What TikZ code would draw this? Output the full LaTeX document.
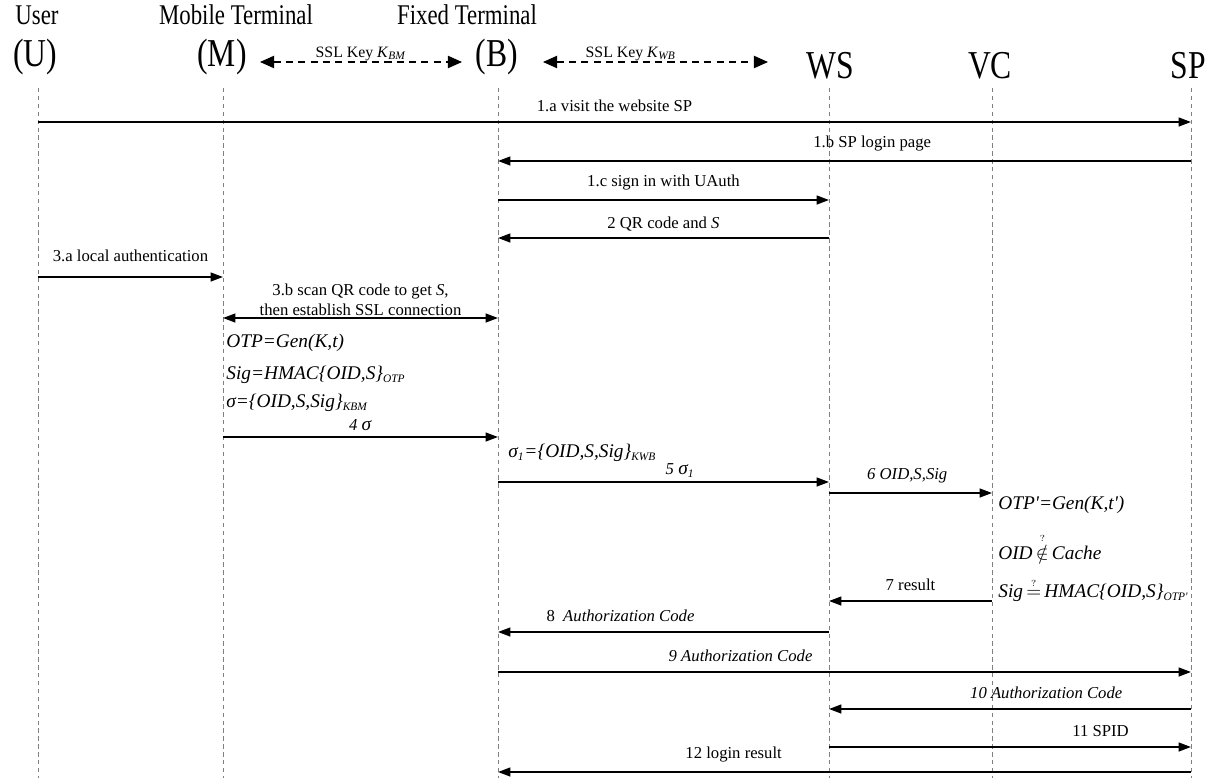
\documentclass[tikz,border=0pt]{standalone}
\usepackage{fontspec}
\setmainfont{Liberation Serif}
\usetikzlibrary{arrows.meta}
\newcommand{\tall}[1]{\scalebox{1}[1.25]{#1}}
\newcommand{\sbs}[1]{\textsubscript{\fontsize{6.5}{7}\selectfont #1}}

\begin{document}
\begin{tikzpicture}[x=0.02cm,y=-0.02cm]
\tikzstyle{actor} = [font=\fontsize{18}{20}\selectfont, inner sep=0pt]
\tikzstyle{role} = [font=\fontsize{13}{15}\selectfont, inner sep=0pt]
\tikzstyle{life} = [draw=gray, line width=0.5pt, dash pattern=on 2.5pt off 2pt]
\tikzstyle{msg} = [draw=black, line width=1pt, -{Triangle[length=7pt,width=5pt]}]
\tikzstyle{dmsg} = [draw=black, line width=1pt, {Triangle[length=7pt,width=5pt]}-{Triangle[length=7pt,width=5pt]}]
\tikzstyle{sslkey} = [draw=black, line width=0.6pt, dash pattern=on 4pt off 3pt, {Triangle[length=8pt,width=7pt]}-{Triangle[length=8pt,width=7pt]}]
\tikzstyle{keylbl} = [font=\fontsize{9}{10}\selectfont, above, inner sep=0.5pt]
\tikzstyle{lbl} = [font=\fontsize{9.5}{11}\selectfont, above, yshift=2pt]
\tikzstyle{formula} = [font=\fontsize{11}{13}\selectfont\itshape, anchor=west, inner sep=0pt]

\useasboundingbox (0,0) rectangle (1215,778);

% participants
\node[role] (tU) at (37,15) {\tall{User}};
\node[actor] (U) at (35,57) {\tall{(U)}};
\node[role] (tM) at (236,15) {\tall{Mobile Terminal}};
\node[actor] (M) at (222,57) {\tall{(M)}};
\node[role] (tB) at (467,15) {\tall{Fixed Terminal}};
\node[actor] (B) at (497,57) {\tall{(B)}};
\node[actor] (WS) at (830,66) {\tall{WS}};
\node[actor] (VC) at (990,66) {\tall{VC}};
\node[actor] (SP) at (1188,66) {\tall{SP}};

% lifelines
\coordinate (lU) at (38,88);
\coordinate (eU) at (38,778);
\coordinate (lM) at (223,88);
\coordinate (eM) at (223,778);
\coordinate (lB) at (498,88);
\coordinate (eB) at (498,778);
\coordinate (lWS) at (829,88);
\coordinate (eWS) at (829,778);
\coordinate (lVC) at (992,88);
\coordinate (eVC) at (992,778);
\coordinate (lSP) at (1191,88);
\coordinate (eSP) at (1191,778);
\draw[life] (lU) -- (eU);
\draw[life] (lM) -- (eM);
\draw[life] (lB) -- (eB);
\draw[life] (lWS) -- (eWS);
\draw[life] (lVC) -- (eVC);
\draw[life] (lSP) -- (eSP);

% SSL keys
\coordinate (k1a) at (260,62);
\coordinate (k1b) at (462,62);
\coordinate (k2a) at (543,62);
\coordinate (k2b) at (768,62);
\draw[sslkey] (k1a) -- node[keylbl]{SSL Key \textit{K}\sbs{\textit{BM}}} (k1b);
\draw[sslkey] (k2a) -- node[keylbl, pos=0.39]{SSL Key \textit{K}\sbs{\textit{WB}}} (k2b);

% messages
\coordinate (m1) at (0,122);
\coordinate (m2) at (0,161);
\coordinate (m3) at (0,200);
\coordinate (m4) at (0,238);
\coordinate (m5) at (0,277);
\coordinate (m6) at (0,318);
\coordinate (m7) at (0,437);
\coordinate (m8) at (0,482);
\coordinate (m9) at (0,493);
\coordinate (m10) at (0,601);
\coordinate (m11) at (0,632);
\coordinate (m12) at (0,672);
\coordinate (m13) at (0,709);
\coordinate (m14) at (0,747);
\coordinate (m15) at (0,772);

\draw[msg] (lU |- m1) -- node[lbl]{1.a visit the website SP} (lSP |- m1);
\draw[msg] (lSP |- m2) -- node[lbl, pos=0.46]{1.b SP login page} (lB |- m2);
\draw[msg] (lB |- m3) -- node[lbl]{1.c sign in with UAuth} (lWS |- m3);
\draw[msg] (lWS |- m4) -- node[lbl, yshift=-2pt]{2 QR code and \textit{S}} (lB |- m4);
\draw[msg] (lU |- m5) -- node[lbl, yshift=3pt]{3.a local authentication} (lM |- m5);
\draw[dmsg] (lM |- m6) -- node[lbl, align=center, yshift=-2pt, inner sep=1pt]{3.b scan QR code to get \textit{S},\\then establish SSL connection} (lB |- m6);
\draw[msg] (lM |- m7) -- node[lbl, yshift=-2pt]{\textit{4 \fontsize{11}{13}\selectfont σ}} (lB |- m7);
\draw[msg] (lB |- m8) -- node[lbl, pos=0.55, yshift=-3pt]{\textit{5 \fontsize{11}{13}\selectfont σ\sbs{1}}} (lWS |- m8);
\draw[msg] (lWS |- m9) -- node[lbl, pos=0.48]{\textit{6 OID,S,Sig}} (lVC |- m9);
\draw[msg] (lVC |- m10) -- node[lbl, pos=0.5]{7 result} (lWS |- m10);
\draw[msg] (lWS |- m11) -- node[lbl, pos=0.63]{8~~\textit{Authorization Code}} (lB |- m11);
\draw[msg] (lB |- m12) -- node[lbl, pos=0.35]{\textit{9 Authorization Code}} (lSP |- m12);
\draw[msg] (lSP |- m13) -- node[lbl, pos=0.40]{\textit{10 Authorization Code}} (lWS |- m13);
\draw[msg] (lWS |- m14) -- node[lbl, pos=0.75]{11 SPID} (lSP |- m14);
\draw[msg] (lSP |- m15) -- node[lbl, pos=0.66]{12 login result} (lB |- m15);

% computations
\node[formula] (f1) at (226,343) {OTP=Gen(K,t)};
\node[formula] (f2) at (226,375) {Sig=HMAC\{OID,S\}\sbs{OTP}};
\node[formula] (f3) at (226,403) {σ=\{OID,S,Sig\}\sbs{KBM}};
\node[formula] (f4) at (508,453) {σ\sbs{1}=\{OID,S,Sig\}\sbs{KWB}};
\node[formula] (f5) at (998,505) {OTP\textquotesingle=Gen(K,t\textquotesingle)};
\node[formula] (f6) at (998,547) {OID\,$\stackrel{\scriptscriptstyle ?}{\notin}$\,Cache};
\node[formula] (f7) at (998,590) {Sig\,$\stackrel{\scriptscriptstyle ?}{=}$\,HMAC\{OID,S\}\sbs{OTP\textquotesingle}};
\end{tikzpicture}
\end{document}
